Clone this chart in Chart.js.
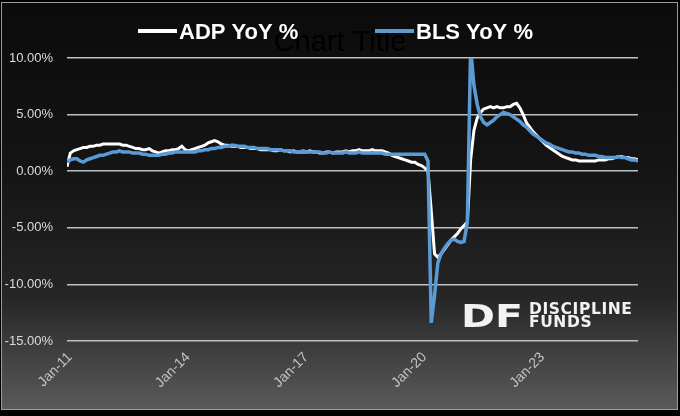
<!DOCTYPE html>
<html>
<head>
<meta charset="utf-8">
<script src="https://cdn.jsdelivr.net/npm/chart.js@4.4.1/dist/chart.umd.min.js"></script>
<style>
  html, body { margin: 0; padding: 0; background: #000; overflow: hidden; }
  #frame {
    position: absolute; left: 1px; top: 2px; width: 675px; height: 406px;
    border: 1px solid #9c9c9c;
    background: linear-gradient(to bottom, #0b0b0b 0%, #141414 40%, #252525 72%, #5a5a5a 100%);
  }
  #chart { position: absolute; left: 0; top: 0; }
</style>
</head>
<body>
<div id="frame"></div>
<canvas id="chart" width="680" height="416"></canvas>
<script>
// monthly data, Jan 2011 .. Jul 2025
const startYear = 2011;
const monthCount = 175;
const tickLabels = ['Jan-11', 'Jan-14', 'Jan-17', 'Jan-20', 'Jan-23'];

const adpYoY = [
  0.4, 1.6, 1.8, 1.9, 2.0, 2.1, 2.1, 2.2, 2.2, 2.3, 2.3, 2.4,   // 2011
  2.4, 2.4, 2.4, 2.4, 2.4, 2.3, 2.3, 2.2, 2.1, 2.0, 2.0, 1.9,   // 2012
  1.9, 2.0, 1.8, 1.7, 1.6, 1.7, 1.8, 1.8, 1.9, 1.9, 2.0, 2.2,   // 2013
  1.9, 1.8, 1.9, 2.0, 2.1, 2.2, 2.3, 2.5, 2.6, 2.7, 2.6, 2.4,   // 2014
  2.3, 2.3, 2.2, 2.2, 2.2, 2.1, 2.1, 2.1, 2.0, 2.0, 2.0, 1.9,   // 2015
  1.9, 1.9, 1.9, 1.8, 1.8, 1.9, 1.8, 1.8, 1.7, 1.8, 1.7, 1.7,   // 2016
  1.7, 1.7, 1.8, 1.7, 1.7, 1.6, 1.6, 1.7, 1.7, 1.6, 1.7, 1.7,   // 2017
  1.7, 1.8, 1.7, 1.8, 1.8, 1.9, 1.8, 1.8, 1.8, 1.9, 1.8, 1.8,   // 2018
  1.8, 1.7, 1.6, 1.4, 1.3, 1.2, 1.1, 1.0, 0.9, 0.8, 0.8, 0.6,   // 2019
  0.5, 0.3, 0.0, -3.5, -7.3, -7.6, -7.3, -6.9, -6.5, -6.1, -5.8, -5.5, // 2020
  -5.1, -4.8, -4.5, 1.0, 3.6, 4.7, 5.2, 5.5, 5.6, 5.7, 5.6, 5.7, // 2021
  5.6, 5.6, 5.7, 5.7, 5.9, 6.0, 5.6, 5.0, 4.3, 3.9, 3.5, 3.2,   // 2022
  2.9, 2.6, 2.3, 2.1, 1.9, 1.7, 1.5, 1.3, 1.2, 1.1, 1.0, 1.0,   // 2023
  0.9, 0.9, 0.9, 0.9, 0.9, 0.9, 1.0, 1.0, 1.0, 1.1, 1.1, 1.2,   // 2024
  1.3, 1.3, 1.2, 1.2, 1.1, 1.1, 1.0                             // 2025
];

const blsYoY = [
  0.8, 1.0, 1.1, 1.1, 0.9, 0.8, 1.0, 1.1, 1.2, 1.3, 1.4, 1.4,   // 2011
  1.5, 1.6, 1.7, 1.7, 1.8, 1.7, 1.7, 1.7, 1.6, 1.6, 1.6, 1.5,   // 2012
  1.5, 1.4, 1.4, 1.4, 1.4, 1.5, 1.5, 1.6, 1.6, 1.7, 1.7, 1.7,   // 2013
  1.7, 1.7, 1.7, 1.7, 1.8, 1.8, 1.9, 1.9, 2.0, 2.0, 2.1, 2.1,   // 2014
  2.2, 2.2, 2.3, 2.3, 2.2, 2.2, 2.2, 2.1, 2.1, 2.1, 2.0, 2.0,   // 2015
  2.0, 2.0, 1.9, 1.9, 1.9, 1.9, 1.8, 1.8, 1.8, 1.7, 1.7, 1.7,   // 2016
  1.8, 1.7, 1.7, 1.7, 1.7, 1.7, 1.6, 1.6, 1.7, 1.6, 1.6, 1.6,   // 2017
  1.6, 1.7, 1.6, 1.6, 1.6, 1.7, 1.6, 1.6, 1.6, 1.6, 1.6, 1.6,   // 2018
  1.6, 1.5, 1.5, 1.5, 1.5, 1.5, 1.5, 1.5, 1.5, 1.5, 1.5, 1.5,   // 2019
  1.5, 1.5, 0.9, -13.4, -11.0, -8.1, -7.3, -6.8, -6.4, -6.1, -6.0, -6.2, // 2020
  -6.3, -6.2, -4.5, 10.9, 7.6, 5.9, 4.8, 4.3, 4.1, 4.3, 4.5, 4.8, // 2021
  5.0, 5.2, 5.1, 5.0, 4.8, 4.6, 4.4, 4.1, 3.9, 3.6, 3.3, 3.1,   // 2022
  2.9, 2.7, 2.5, 2.4, 2.2, 2.1, 2.0, 1.9, 1.8, 1.7, 1.7, 1.6,   // 2023
  1.6, 1.5, 1.5, 1.4, 1.4, 1.4, 1.3, 1.3, 1.2, 1.2, 1.2, 1.2,   // 2024
  1.3, 1.2, 1.2, 1.1, 1.0, 1.0, 0.9                             // 2025
];

const monthNames = ['Jan','Feb','Mar','Apr','May','Jun','Jul','Aug','Sep','Oct','Nov','Dec'];
const labels = [];
for (let i = 0; i < monthCount; i++) {
  const yy = String((startYear + Math.floor(i / 12)) % 100).padStart(2, '0');
  labels.push(monthNames[i % 12] + '-' + yy);
}

// legend, faint default title and the logo are painted on the canvas
const decorPlugin = {
  id: 'decor',
  beforeDraw(chart) {
    const ctx = chart.ctx;
    ctx.save();
    ctx.fillStyle = '#000';
    ctx.font = '29px "Liberation Sans", Arial, sans-serif';
    ctx.textAlign = 'center';
    ctx.textBaseline = 'alphabetic';
    ctx.fillText('Chart Title', 340, 51);
    ctx.restore();
  },
  afterDraw(chart) {
    const ctx = chart.ctx;
    ctx.save();
    // legend
    const itemX = [138, 375];
    ctx.font = 'bold 22px "Liberation Sans", Arial, sans-serif';
    ctx.textBaseline = 'alphabetic';
    ctx.textAlign = 'left';
    chart.data.datasets.forEach((ds, i) => {
      ctx.fillStyle = ds.borderColor;
      ctx.fillRect(itemX[i], 29, 39, 4);
      ctx.fillStyle = '#ffffff';
      ctx.fillText(ds.label, itemX[i] + 41, 39);
    });
    // logo
    ctx.fillStyle = '#f2f2f2';
    ctx.save();
    ctx.translate(461, 327);
    ctx.scale(1.28, 1);
    ctx.font = 'bold 32px "DejaVu Sans", sans-serif';
    ctx.fillText('DF', 0, 0);
    ctx.restore();
    ctx.font = 'bold 15.5px "DejaVu Sans", sans-serif';
    ctx.letterSpacing = '0.6px';
    ctx.fillText('DISCIPLINE', 529, 314);
    ctx.fillText('FUNDS', 529, 327);
    ctx.restore();
  }
};

const ctx = document.getElementById('chart').getContext('2d');
new Chart(ctx, {
  type: 'line',
  data: {
    labels: labels,
    datasets: [
      {
        label: 'ADP YoY %',
        data: adpYoY,
        borderColor: '#ffffff',
        backgroundColor: '#ffffff',
        borderWidth: 3,
        pointRadius: 0,
        tension: 0,
        clip: 0,
        order: 2
      },
      {
        label: 'BLS YoY %',
        data: blsYoY,
        borderColor: '#5b9bd5',
        backgroundColor: '#5b9bd5',
        borderWidth: 3.5,
        pointRadius: 0,
        tension: 0,
        clip: 0,
        order: 1
      }
    ]
  },
  options: {
    responsive: false,
    animation: false,
    layout: { padding: { top: 58, right: 42, bottom: 0, left: 0 } },
    plugins: {
      legend: { display: false },
      title: { display: false },
      tooltip: { enabled: false }
    },
    scales: {
      x: {
        offset: false,
        grid: { display: false },
        border: { display: false },
        afterFit(scale) { scale.height = 75; },
        ticks: {
          autoSkip: false,
          minRotation: 45,
          maxRotation: 45,
          padding: 0,
          labelOffset: 3,
          color: '#c4c4c4',
          font: { family: '"Liberation Sans", Arial, sans-serif', size: 14 },
          callback(value, index) {
            const lab = labels[index];
            return tickLabels.includes(lab) ? lab : null;
          }
        }
      },
      y: {
        min: -15,
        max: 10,
        afterFit(scale) { scale.width = 67; },
        grid: { color: '#c0c0c0', lineWidth: 1.5, drawTicks: false },
        border: { display: false },
        ticks: {
          stepSize: 5,
          padding: 14,
          color: '#dcdcdc',
          font: { family: '"Liberation Sans", Arial, sans-serif', size: 13 },
          callback: v => v.toFixed(2) + '%'
        }
      }
    }
  },
  plugins: [decorPlugin]
});
</script>
</body>
</html>
